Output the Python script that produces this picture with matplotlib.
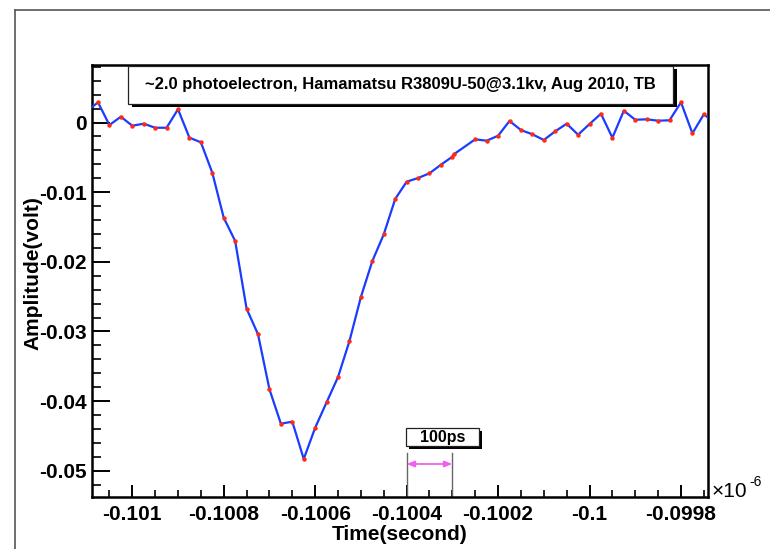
import matplotlib
matplotlib.use("Agg")
import matplotlib.pyplot as plt
from matplotlib.patches import Rectangle
from matplotlib.lines import Line2D
from matplotlib.ticker import FixedLocator, FixedFormatter, MultipleLocator

plt.rcParams['font.family'] = ['Liberation Sans', 'DejaVu Sans']
plt.rcParams['axes.unicode_minus'] = False

# ---- data (time in units of 1e-6 s, amplitude in volt) ----
time_us = [-0.101100, -0.101075, -0.101050, -0.101025, -0.101000, -0.100975,
           -0.100950, -0.100925, -0.100900, -0.100875, -0.100850, -0.100825,
           -0.100800, -0.100775, -0.100750, -0.100725, -0.100700, -0.100675,
           -0.100650, -0.100625, -0.100600, -0.100575, -0.100550, -0.100525,
           -0.100500, -0.100475, -0.100450, -0.100425, -0.100400, -0.100375,
           -0.100350, -0.100325, -0.100300, -0.100297, -0.100250, -0.100225,
           -0.100200, -0.100175, -0.100150, -0.100125, -0.100100, -0.100075,
           -0.100050, -0.100025, -0.100000, -0.099975, -0.099950, -0.099925,
           -0.099900, -0.099875, -0.099850, -0.099825, -0.099800, -0.099775,
           -0.099750, -0.099725]
amplitude_v = [0.00158, 0.00290, -0.00036, 0.00083, -0.00046, -0.00017,
               -0.00075, -0.00075, 0.00190, -0.00218, -0.00284, -0.00721,
               -0.01367, -0.01701, -0.02673, -0.03041, -0.03831, -0.04324,
               -0.04296, -0.04831, -0.04382, -0.04017, -0.03654, -0.03137,
               -0.02505, -0.01989, -0.01605, -0.01098, -0.00850, -0.00797,
               -0.00729, -0.00606, -0.00491, -0.00457, -0.00241, -0.00261,
               -0.00190, 0.00022, -0.00108, -0.00169, -0.00251, -0.00126,
               -0.00017, -0.00175, -0.00022, 0.00126, -0.00218, 0.00169,
               0.00040, 0.00046, 0.00026, 0.00032, 0.00290, -0.00155,
               0.00118, -0.00014]

x_ticks = [-0.101, -0.1008, -0.1006, -0.1004, -0.1002, -0.1, -0.0998]
x_tick_labels = ['-0.101', '-0.1008', '-0.1006', '-0.1004', '-0.1002', '-0.1', '-0.0998']
y_ticks = [0.0, -0.01, -0.02, -0.03, -0.04, -0.05]
y_tick_labels = ['0', '-0.01', '-0.02', '-0.03', '-0.04', '-0.05']

title_text = "~2.0 photoelectron, Hamamatsu R3809U-50@3.1kv, Aug 2010, TB"
scale_text = "100ps"
scale_start, scale_end = -0.1004, -0.1003
x_title = "Time(second)"
y_title = "Amplitude(volt)"

W, H = 770, 549
fig = plt.figure(figsize=(W / 100, H / 100), dpi=100)
fig.patch.set_facecolor('white')

def fx(px):
    return px / W

def fy(py):
    return 1 - py / H

# canvas frame lines (top and left)
fig.add_artist(Line2D([fx(15), 1.0], [fy(10), fy(10)], color='#555555', lw=1.2))
fig.add_artist(Line2D([fx(15), fx(15)], [fy(10), 0.0], color='#555555', lw=1.2))

L, R, T, B = 92, 708, 65, 497
ax = fig.add_axes([fx(L), fy(B), fx(R - L), (B - T) / H])
ax.set_xlim(-0.1010881, -0.0997409)
ax.set_ylim(-0.05377, 0.00826)

ax.plot(time_us, amplitude_v, color='#1a3cff', lw=1.6, zorder=3,
        marker='o', markersize=3.2, markerfacecolor='#ff2a10',
        markeredgecolor='#ff2a10', markeredgewidth=0)

for s in ax.spines.values():
    s.set_linewidth(1.8)
    s.set_color('black')

ax.xaxis.set_major_locator(FixedLocator(x_ticks))
ax.xaxis.set_major_formatter(FixedFormatter(x_tick_labels))
ax.xaxis.set_minor_locator(MultipleLocator(0.00005))
ax.yaxis.set_major_locator(FixedLocator(y_ticks))
ax.yaxis.set_major_formatter(FixedFormatter(y_tick_labels))
ax.yaxis.set_minor_locator(MultipleLocator(0.002))

ax.tick_params(axis='x', which='major', direction='in', length=9, width=1.4,
               pad=6, labelsize=15)
ax.tick_params(axis='x', which='minor', direction='in', length=4.7, width=1.2)
ax.tick_params(axis='y', which='major', direction='in', length=13, width=1.4,
               pad=4, labelsize=15)
ax.tick_params(axis='y', which='minor', direction='in', length=6.5, width=1.2)
for lab in ax.get_xticklabels() + ax.get_yticklabels():
    lab.set_fontweight('bold')

# axis titles
fig.text(fx(400), fy(534), x_title, fontsize=15, fontweight='bold',
         ha='center', va='center')
fig.text(fx(33), fy(273), y_title, fontsize=15, fontweight='bold',
         ha='center', va='center', rotation=90)

# exponent
fig.text(fx(712), fy(497), '\u00d710', fontsize=15, ha='left', va='baseline')
fig.text(fx(749), fy(486), '-6', fontsize=10, ha='left', va='baseline')

# title box with shadow
bx0, bx1, by0, by1 = 128.3, 673.3, 65.7, 104.3
fig.add_artist(Rectangle((fx(bx0 + 4), fy(by1 + 3)), fx(bx1 - bx0), (by1 - by0) / H,
                         facecolor='black', edgecolor='none', zorder=10))
fig.add_artist(Rectangle((fx(bx0), fy(by1)), fx(bx1 - bx0), (by1 - by0) / H,
                         facecolor='white', edgecolor='#222222', lw=0.9, zorder=11))
fig.text(fx((bx0 + bx1) / 2), fy((by0 + by1) / 2), title_text, fontsize=12,
         fontweight='bold', ha='center', va='center', zorder=12)

# 100ps scale marker
sx0, sx1, sy0, sy1 = 406, 478.7, 427.7, 446
fig.add_artist(Rectangle((fx(sx0 + 3), fy(sy1 + 3)), fx(sx1 - sx0), (sy1 - sy0) / H,
                         facecolor='black', edgecolor='none', zorder=10))
fig.add_artist(Rectangle((fx(sx0), fy(sy1)), fx(sx1 - sx0), (sy1 - sy0) / H,
                         facecolor='white', edgecolor='#222222', lw=0.9, zorder=11))
fig.text(fx((sx0 + sx1) / 2), fy((sy0 + sy1) / 2 + 0.5), scale_text, fontsize=11.5,
         fontweight='bold', ha='center', va='center', zorder=12)

ylo = ax.get_ylim()[0]
for xv in (scale_start, scale_end):
    ax.plot([xv, xv], [-0.04750, ylo], color='#666666', lw=1.0, zorder=2)
ax.annotate('', xy=(scale_end, -0.04903), xytext=(scale_start, -0.04903),
            arrowprops=dict(arrowstyle='<|-|>,head_length=0.45,head_width=0.18',
                            color='#f060f0', lw=1.3, shrinkA=0, shrinkB=0))

fig.savefig('out.png', dpi=100)
